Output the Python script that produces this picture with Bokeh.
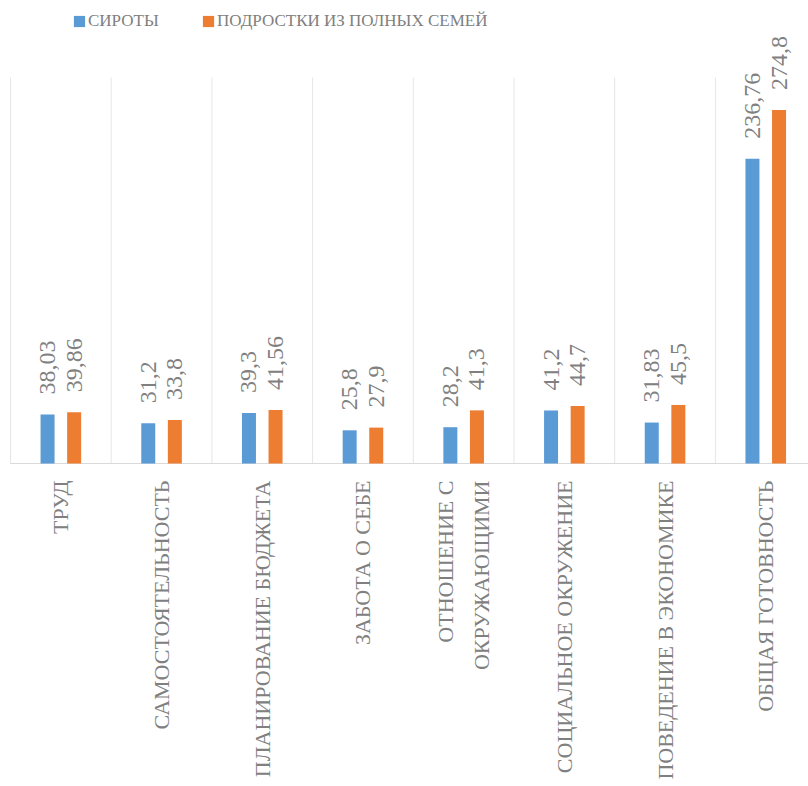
import numpy as np
from bokeh.plotting import figure
from bokeh.models import ColumnDataSource, Range1d, Legend, LegendItem
from bokeh.core.properties import value
from bokeh.embed import file_html
from bokeh.resources import INLINE

categories = ["ТРУД", "САМОСТОЯТЕЛЬНОСТЬ", "ПЛАНИРОВАНИЕ БЮДЖЕТА", "ЗАБОТА О СЕБЕ",
              "ОТНОШЕНИЕ С\nОКРУЖАЮЩИМИ", "СОЦИАЛЬНОЕ ОКРУЖЕНИЕ",
              "ПОВЕДЕНИЕ В ЭКОНОМИКЕ", "ОБЩАЯ ГОТОВНОСТЬ"]
orphans = [38.03, 31.2, 39.3, 25.8, 28.2, 41.2, 31.83, 236.76]
full_family = [39.86, 33.8, 41.56, 27.9, 41.3, 44.7, 45.5, 274.8]
series_names = ["СИРОТЫ", "ПОДРОСТКИ ИЗ ПОЛНЫХ СЕМЕЙ"]
y_max = 300

BLUE = "#5B9BD5"
ORANGE = "#ED7D31"
TEXT = "#808080"
FONT_NAME = "Liberation Serif, serif"
FONT = value(FONT_NAME)

n = len(categories)
centers = np.arange(n) + 0.5
offset = 0.132
bar_w = 0.139

def fmt(v):
    return f"{v:g}".replace(".", ",")

src_a = ColumnDataSource(dict(x=centers - offset, top=orphans,
                              lab=[fmt(v) for v in orphans]))
src_b = ColumnDataSource(dict(x=centers + offset, top=full_family,
                              lab=[fmt(v) for v in full_family]))
src_c = ColumnDataSource(dict(x=centers, y=[0] * n, lab=categories))

p = figure(width=808, height=786, output_backend="svg", toolbar_location=None,
           x_range=Range1d(-0.0993, 7.9245), y_range=Range1d(-251.0, 359.8),
           x_axis_location=None, y_axis_location=None,
           min_border=0, min_border_left=0, min_border_right=0,
           min_border_top=0, min_border_bottom=0)
p.outline_line_color = None
p.xgrid.visible = False
p.ygrid.visible = False

bounds = np.arange(n + 1)
p.segment(x0=bounds, y0=0, x1=bounds, y1=y_max, line_color="#e6e6e6", line_width=1)
p.segment(x0=[0], y0=[0], x1=[n], y1=[0], line_color="#d9d9d9", line_width=1)

ra = p.vbar(x="x", top="top", width=bar_w, bottom=0, source=src_a,
            fill_color=BLUE, line_color=None)
rb = p.vbar(x="x", top="top", width=bar_w, bottom=0, source=src_b,
            fill_color=ORANGE, line_color=None)

for src in (src_a, src_b):
    p.text(x="x", y="top", text="lab", source=src, angle=np.pi / 2,
           text_align="left", text_baseline="middle", y_offset=-20,
           text_font=FONT, text_font_size="24px", text_color=TEXT)

p.text(x="x", y="y", text="lab", source=src_c, angle=np.pi / 2,
       text_align="right", text_baseline="middle", y_offset=17,
       text_font=FONT, text_font_size="22px", text_color=TEXT,
       text_line_height=1.45)

for r, name, loc in ((ra, series_names[0], (72, 755)), (rb, series_names[1], (201, 755))):
    lg = Legend(items=[LegendItem(label=name, renderers=[r])], location=loc,
                orientation="horizontal", padding=0, margin=0,
                glyph_width=14, glyph_height=14, label_standoff=2,
                label_text_font=FONT_NAME, label_text_font_size="17px",
                label_text_color=TEXT, background_fill_alpha=0,
                border_line_alpha=0)
    p.add_layout(lg, "center")

open("out.html", "w").write(file_html(p, INLINE))
